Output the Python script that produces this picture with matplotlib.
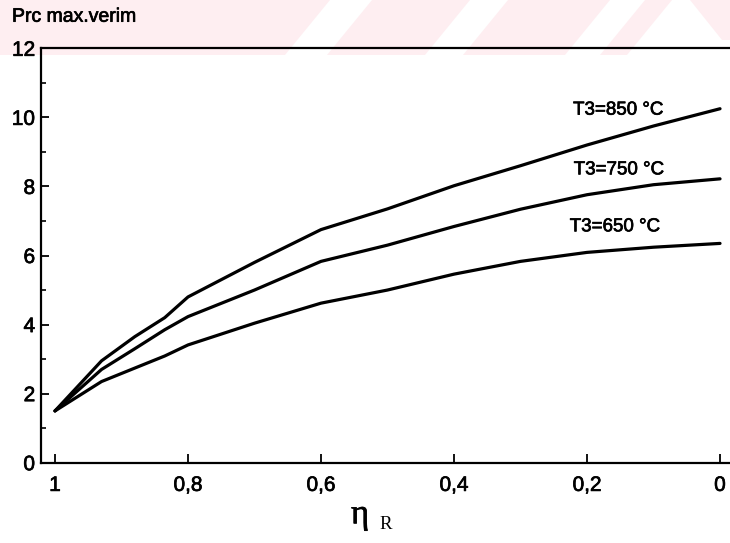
import matplotlib
matplotlib.use("Agg")
import matplotlib.pyplot as plt
import matplotlib.patheffects as pe
from matplotlib.patches import Polygon
from matplotlib.ticker import MultipleLocator

# Recovery effectiveness (eta_R) and maximum-efficiency pressure ratio
eta_r = [1.0, 0.93, 0.88, 0.835, 0.8, 0.7, 0.6, 0.5, 0.4, 0.3, 0.2, 0.1, 0.0]
prc_850 = [1.5, 2.95, 3.65, 4.2, 4.8, 5.8, 6.75, 7.35, 8.02, 8.6, 9.2, 9.75, 10.25]
prc_750 = [1.5, 2.7, 3.3, 3.85, 4.23, 5.0, 5.83, 6.3, 6.84, 7.34, 7.76, 8.05, 8.22]
prc_650 = [1.5, 2.35, 2.74, 3.09, 3.41, 4.04, 4.62, 5.0, 5.46, 5.83, 6.09, 6.24, 6.35]

series = [prc_850, prc_750, prc_650]
curve_labels = ["T3=850 °C", "T3=750 °C", "T3=650 °C"]
label_pos = [(0.221, 10.21), (0.22, 8.48), (0.226, 6.83)]

x_ticks = [1.0, 0.8, 0.6, 0.4, 0.2, 0.0]
x_tick_labels = ["1", "0,8", "0,6", "0,4", "0,2", "0"]
y_ticks = [0, 2, 4, 6, 8, 10, 12]

W, H = 730, 543
fig = plt.figure(figsize=(W / 100, H / 100), dpi=100)
fig.patch.set_facecolor("white")

# faint pink band with slanted gaps across the top edge
pink = (0.995, 0.935, 0.945)
bands = [
    [(0, 0), (330, 0), (285, 55), (0, 55)],
    [(372, 0), (470, 0), (425, 55), (327, 55)],
    [(508, 0), (610, 0), (565, 55), (463, 55)],
    [(645, 0), (672, 0), (627, 55), (600, 55)],
    [(690, 0), (730, 0), (730, 40), (722, 40)],
]
for poly in bands:
    pts = [(px / W, 1 - py / H) for px, py in poly]
    fig.add_artist(Polygon(pts, closed=True, transform=fig.transFigure,
                           facecolor=pink, edgecolor="none", zorder=0))

left, right, top, bottom = 40.7, 730.0, 48.3, 462.7
ax = fig.add_axes([left / W, 1 - bottom / H, (right - left) / W, (bottom - top) / H])
ax.set_facecolor("none")

for vals in series:
    ax.plot(eta_r, vals, color="black", lw=2.3, solid_capstyle="round",
            solid_joinstyle="round")

font = "Liberation Sans"
heavy = [pe.withStroke(linewidth=0.5, foreground="black")]
for text, (tx, ty) in zip(curve_labels, label_pos):
    ax.text(tx, ty, text, fontsize=13.5, family=font, ha="left", va="center",
            path_effects=heavy)

ax.set_xlim(1.0215, -0.015)
ax.set_ylim(0, 12)
ax.set_xticks(x_ticks)
ax.set_xticklabels(x_tick_labels)
ax.set_yticks(y_ticks)
ax.yaxis.set_minor_locator(MultipleLocator(1))

for lab in ax.get_xticklabels() + ax.get_yticklabels():
    lab.set_fontfamily(font)
    lab.set_fontsize(15)
    lab.set_path_effects(heavy)

ax.tick_params(axis="x", which="major", direction="in", length=6.5, width=1.3,
               pad=9.5, top=False)
ax.tick_params(axis="y", which="major", direction="in", length=6, width=1.3,
               pad=4, right=False)
ax.tick_params(axis="y", which="minor", direction="in", length=3.5, width=1.2,
               right=False)

ax.spines["right"].set_visible(False)
for side in ("left", "bottom", "top"):
    ax.spines[side].set_linewidth(1.6)

fig.text(12 / W, 1 - 21.7 / H, "Prc max.verim", family=font, fontsize=14,
         ha="left", va="baseline", path_effects=heavy)
fig.text(351 / W, 1 - 523.3 / H, "η", family="Liberation Serif", fontsize=25,
         ha="left", va="baseline", path_effects=heavy)
fig.text(379 / W, 1 - 529 / H, "R", family="Liberation Serif", fontsize=13.5,
         ha="left", va="baseline")

fig.savefig("out.png", dpi=100, facecolor="white")
